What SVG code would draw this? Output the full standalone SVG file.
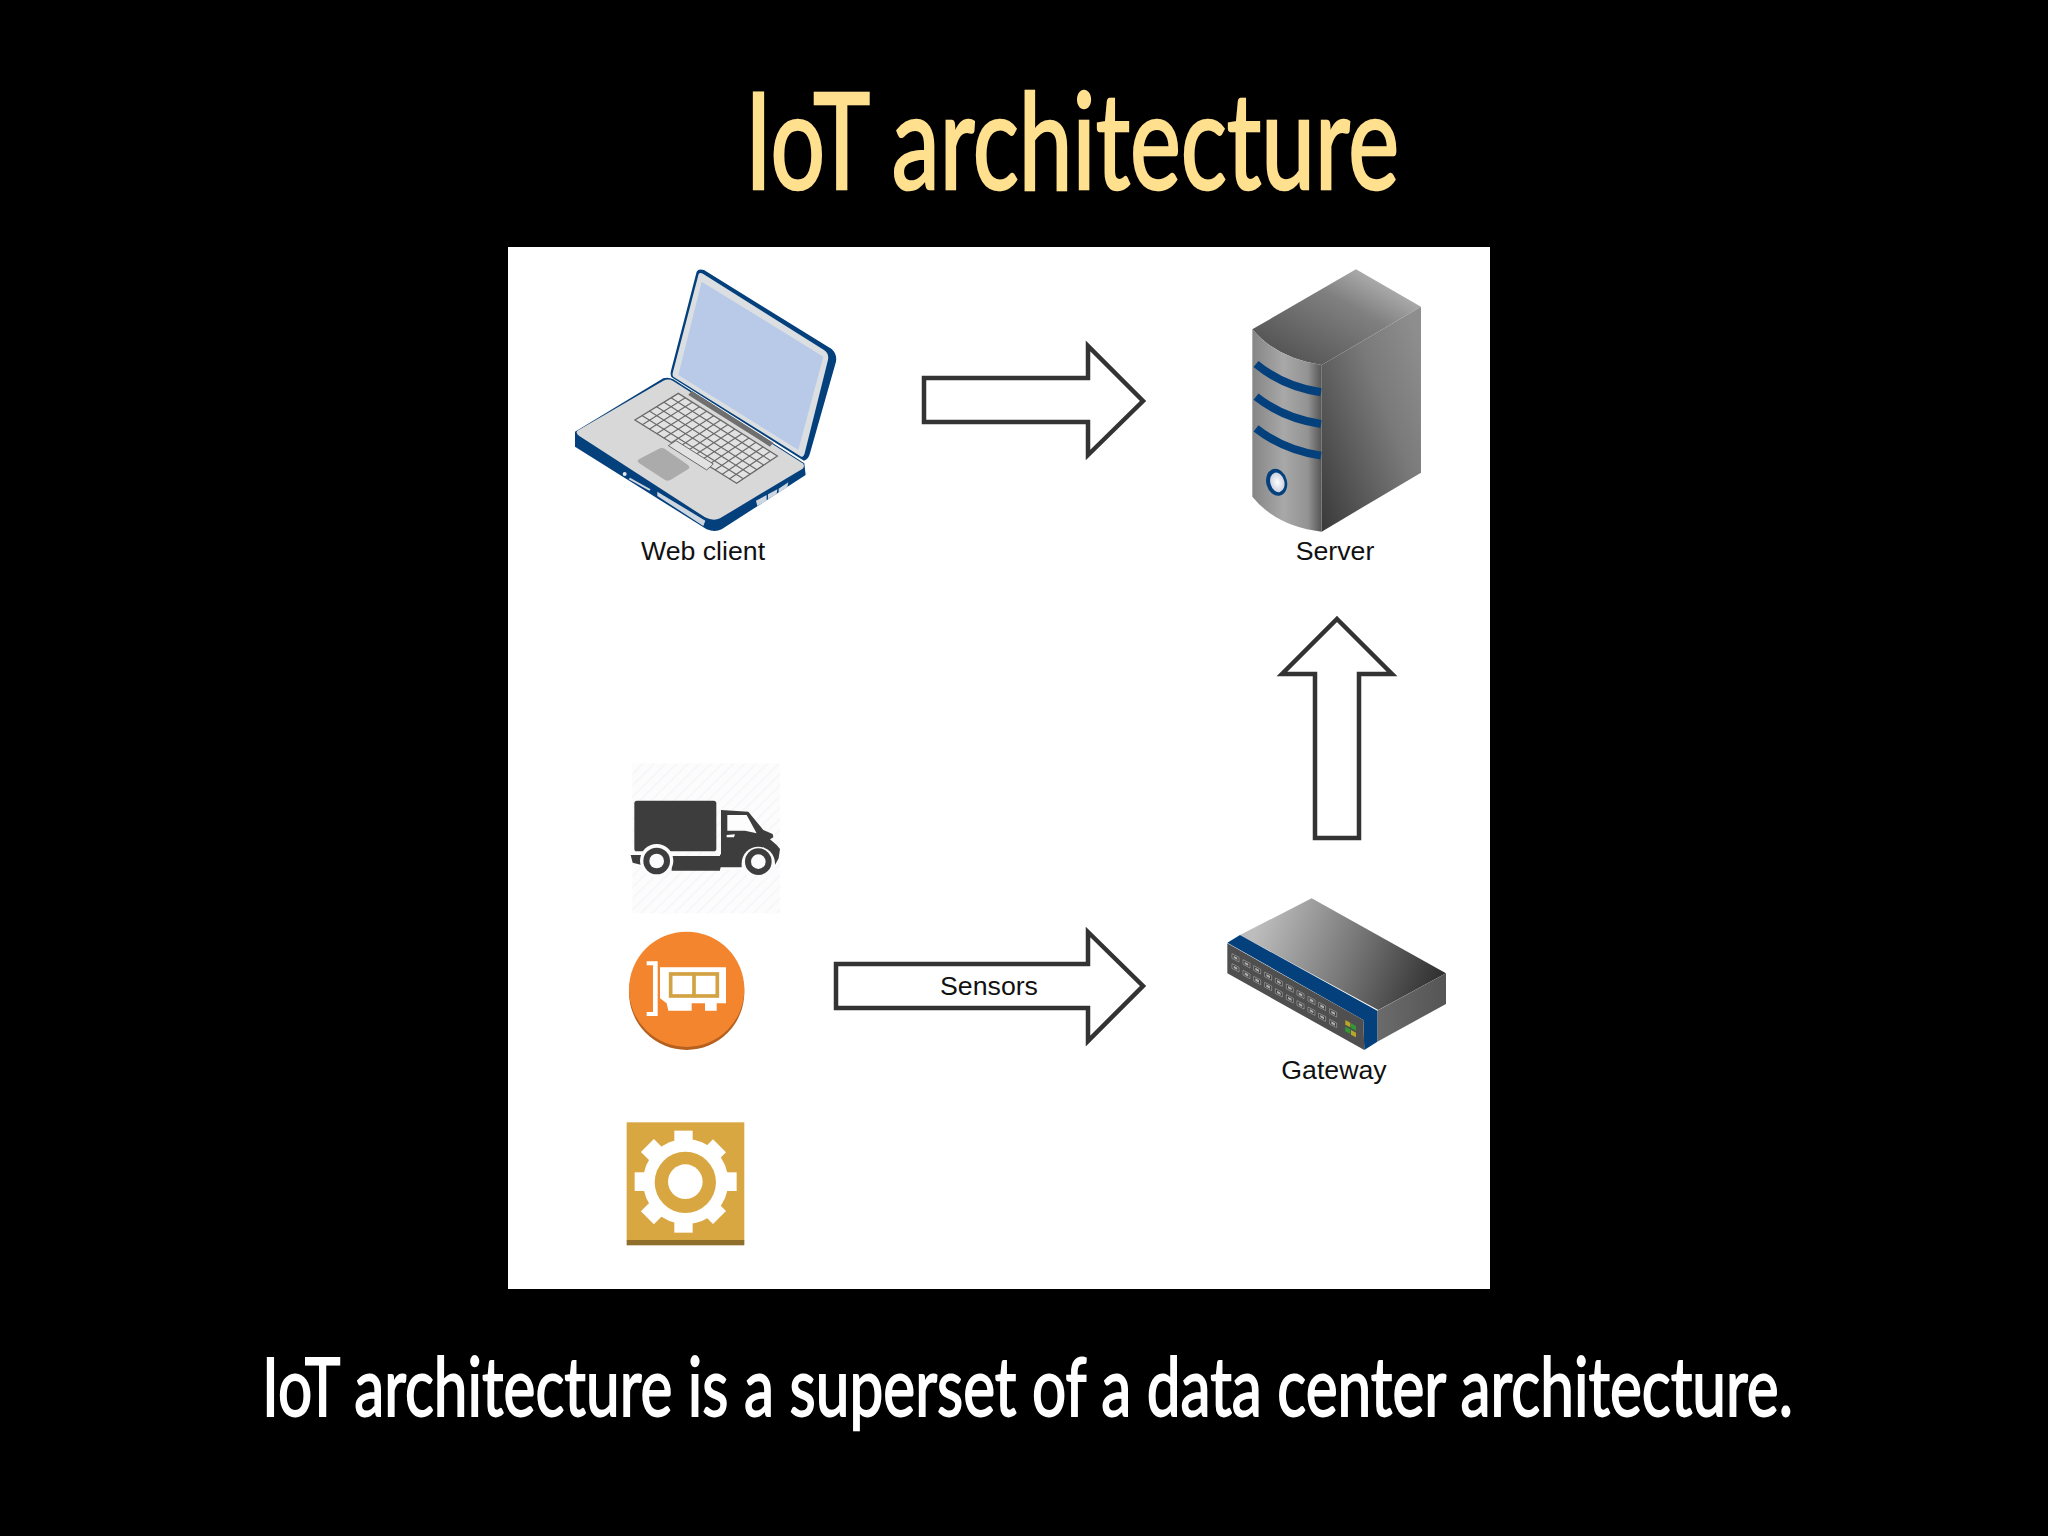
<svg xmlns="http://www.w3.org/2000/svg" width="2048" height="1536" viewBox="0 0 2048 1536">
<defs>
<style>
.lab{font-family:"Liberation Sans",Arial,sans-serif;font-size:26.7px;fill:#111;text-anchor:middle}
.head{font-family:Lato,"Open Sans",sans-serif;font-weight:400}
.arrow{fill:#fff;stroke:#333;stroke-width:4.5;stroke-linejoin:miter}
.navy{fill:#04407c}
</style>
<linearGradient id="srvTop" x1="0" y1="1" x2="1" y2="0"><stop offset="0" stop-color="#484848"/><stop offset=".6" stop-color="#808080"/><stop offset="1" stop-color="#cfcfcf"/></linearGradient>
<linearGradient id="srvSide" x1="0" y1="1" x2="1" y2="0.15"><stop offset="0" stop-color="#393939"/><stop offset=".65" stop-color="#7a7a7a"/><stop offset="1" stop-color="#8e8e8e"/></linearGradient>
<linearGradient id="srvFront" x1="0" y1="0" x2="1" y2="0"><stop offset="0" stop-color="#858585"/><stop offset=".45" stop-color="#a8a8a8"/><stop offset=".8" stop-color="#939393"/><stop offset="1" stop-color="#555"/></linearGradient>
<radialGradient id="led" cx=".5" cy=".5" r=".6"><stop offset="0" stop-color="#fff"/><stop offset="1" stop-color="#c4c8d8"/></radialGradient>
<linearGradient id="gwTop" gradientUnits="userSpaceOnUse" x1="150" y1="120" x2="690" y2="340"><stop offset="0" stop-color="#bdbdbd"/><stop offset=".5" stop-color="#777"/><stop offset="1" stop-color="#2c2c2c"/></linearGradient>
<linearGradient id="gwSide" x1="0" y1="0" x2="1" y2="0"><stop offset="0" stop-color="#6b6b6b"/><stop offset="1" stop-color="#555"/></linearGradient>
<pattern id="hatch" width="24" height="24" patternUnits="userSpaceOnUse" patternTransform="rotate(-45)"><rect width="24" height="24" fill="#fcfcfd"/><rect width="24" height="6" fill="#f7f7fa"/></pattern>
<g id="port"><path d="M-11-9 10 2V16L-11 5Z" fill="#3f3f3f" stroke="#a8a8a8" stroke-width="2"/><path d="M-6-3 5 3V10L-6 4Z" fill="#b0b0b0"/></g>
</defs>

<rect width="2048" height="1536" fill="#000"/>
<text id="title" class="head" x="745" y="189" font-size="134" fill="#fee08f" stroke="#fee08f" stroke-width="2.6" textLength="654" lengthAdjust="spacingAndGlyphs">IoT architecture</text>
<rect id="panel" x="508" y="247" width="982" height="1042" fill="#fff"/>

<g id="web-client">
<g transform="translate(540 250) scale(.3333)">
<path class="navy" d="M470 65Q475 55 492 60L875 297Q892 312 888 335L810 610Q805 630 792 632L395 382Q390 375 393 362Z"/>
<path d="M476 72Q480 66 490 72L852 300Q868 310 864 330L795 606Q792 622 784 620L400 380Q396 376 399 366Z" fill="#dcdfe2"/>
<path d="M485 95 850 320 775 600 415 375Z" fill="#b9c9e8"/>
<path class="navy" d="M105 545 370 385Q385 380 400 388L793 640 797 675 545 838Q525 848 500 838L105 590Z"/>
<path d="M112 542 370 392Q385 385 398 392L788 640Q796 648 788 656L540 805Q520 815 495 802L118 558Q106 550 112 542Z" fill="#d8d8d8"/>
<path d="M455 422 700 578 690 590 445 435Z" fill="#6f6f6f"/>
<path d="M415 430 712 618 590 700 285 510Z" fill="#e2e2e2" stroke="#6a6a6a" stroke-width="4"/>
<path d="M393 443 692 632M372 457 671 645M350 470 651 659M328 483 631 673M307 497 610 686M436 443 307 524M457 457 329 537M479 470 350 551M500 484 372 564M521 497 394 578M542 510 416 592M563 524 438 605M585 537 459 619M606 551 481 632M627 564 503 646M648 577 525 660M669 591 547 673M691 604 568 687" fill="none" stroke="#6a6a6a" stroke-width="3.5"/>
<path d="M408 572 520 642 500 660 385 587Z" fill="#e2e2e2" stroke="#6a6a6a" stroke-width="3"/>
<path d="M360 595Q368 592 375 597L444 645Q452 652 444 658L395 688Q385 695 375 690L298 640Q288 632 298 627Z" fill="#ababab"/>
<circle cx="254" cy="672" r="6" fill="#e8e8e8"/>
<path d="M270 683 332 718 328 722 266 688ZM352 725 496 812 490 828 352 738ZM648 752 680 735 680 752 652 768ZM684 733 712 718 710 733 684 748ZM716 716 745 697 742 712 716 728Z" fill="#ced6e0"/>
</g>
<text class="lab" x="703" y="560">Web client</text>
</g>

<g id="server">
<g transform="translate(1220 250) scale(.3333)">
<path d="M97 238 408 58 603 170 305 345Q170 325 97 238Z" fill="url(#srvTop)"/>
<path d="M305 345 603 170V668L305 845Z" fill="url(#srvSide)"/>
<path d="M97 238Q170 325 305 345V845Q170 830 97 740Z" fill="url(#srvFront)"/>
<path d="M108 342Q190 410 303 427M108 440Q190 505 303 522M108 535Q190 600 303 617" fill="none" stroke="#04407c" stroke-width="24"/>
<ellipse cx="170" cy="697" rx="31" ry="41" transform="rotate(-15 170 697)" fill="#04407c"/>
<ellipse cx="172" cy="697" rx="21" ry="30" transform="rotate(-15 172 697)" fill="url(#led)"/>
</g>
<text class="lab" x="1335" y="560">Server</text>
</g>

<g id="gateway">
<g transform="translate(1210 880) scale(.3333)">
<path d="M90 165 305 55 708 280 505 390Z" fill="url(#gwTop)"/>
<path d="M502 392 708 280V372L502 485Z" fill="url(#gwSide)"/>
<path class="navy" d="M52 188 90 165 502 392V485L463 510 460 420Z"/>
<path d="M52 190 460 420 463 510 52 280Z" fill="#4f4f4f"/>
<use href="#port" x="77" y="230"/><use href="#port" x="110" y="248"/><use href="#port" x="142" y="266"/><use href="#port" x="175" y="285"/><use href="#port" x="207" y="303"/><use href="#port" x="240" y="321"/><use href="#port" x="272" y="340"/><use href="#port" x="305" y="358"/><use href="#port" x="337" y="376"/><use href="#port" x="370" y="395"/>
<use href="#port" x="77" y="260"/><use href="#port" x="110" y="280"/><use href="#port" x="142" y="298"/><use href="#port" x="175" y="316"/><use href="#port" x="207" y="335"/><use href="#port" x="240" y="353"/><use href="#port" x="272" y="371"/><use href="#port" x="305" y="390"/><use href="#port" x="337" y="408"/><use href="#port" x="370" y="427"/>
<path d="M406 420 421 428V442L406 434Z" fill="#b9a52a"/><path d="M423 430 438 438V452L423 444Z" fill="#2f9a34"/><path d="M406 440 421 448V462L406 454Z" fill="#2f9a34"/><path d="M423 450 438 458V472L423 464Z" fill="#b9a52a"/>
</g>
<text class="lab" x="1334" y="1079">Gateway</text>
</g>

<g id="truck">
<g transform="translate(610 750) scale(.3333)">
<rect x="67" y="40" width="443" height="450" fill="url(#hatch)"/>
<rect x="73" y="152" width="246" height="152" rx="8" fill="#3d3d3d"/>
<path d="M333 180 415 185 460 240 488 252 490 262 480 268 500 285 510 297 506 325 495 345 455 360H330L330 330V315L333 312Z" fill="#3d3d3d"/>
<path d="M185 318H330V362H185ZM62 315H95V345L68 338Z" fill="#3d3d3d"/>
<path d="M352 195H410L440 250 405 242H352Z" fill="#fdfdfd"/>
<path d="M350 255 375 253 372 262 350 262ZM332 352H400V360H330Z" fill="#fff"/>
<circle cx="140" cy="332" r="50" fill="#fbfbfd"/><circle cx="140" cy="333" r="40" fill="#3d3d3d"/><circle cx="140" cy="333" r="22" fill="#fbfbfd"/>
<path d="M395 340A50 50 0 0 1 495 340V375H395Z" fill="#fbfbfd"/><circle cx="445" cy="335" r="40" fill="#3d3d3d"/><circle cx="445" cy="335" r="22" fill="#fbfbfd"/>
</g>
</g>

<g id="network-card">
<g transform="translate(610 750) scale(.3333)">
<circle cx="230" cy="727" r="173" fill="#b5601f"/>
<circle cx="230" cy="718" r="173" fill="#f3852f"/>
<path d="M110 634H143V798H110V786H129V646H110Z" fill="#fff"/>
<path d="M150 652H348V760H320V782H285V760H245V782H175L170 760 150 745Z" fill="#fff"/>
<rect x="182" y="672" width="140" height="66" fill="#fff" stroke="#d2a243" stroke-width="11"/>
<path d="M252 668V742" stroke="#d2a243" stroke-width="11"/>
</g>
</g>

<g id="gear">
<g transform="translate(610 1080) scale(.3333)">
<rect x="50" y="127" width="353" height="355" fill="#d9a741"/>
<rect x="50" y="480" width="353" height="16" fill="#8f6f2b"/>
<g fill="#fff">
<circle cx="227" cy="305" r="128"/>
<rect x="193" y="152" width="55" height="306"/>
<rect x="74" y="277" width="306" height="56"/>
<rect x="193" y="152" width="55" height="306" transform="rotate(45 220 305)"/>
<rect x="193" y="152" width="55" height="306" transform="rotate(-45 220 305)"/>
</g>
<circle cx="226" cy="307" r="92" fill="#d9a741"/>
<circle cx="226" cy="305" r="52" fill="#fff"/>
</g>
</g>

<g id="connectors">
<path class="arrow" d="M924 378H1088V346L1143 401 1088 455V422H924Z"/>
<path class="arrow" d="M1337 619 1392 674H1359V838H1315V674H1282Z"/>
<path class="arrow" d="M836 964H1088V932L1143 986 1088 1041V1008H836Z"/>
<text class="lab" x="989" y="995">Sensors</text>
</g>

<text id="caption" class="head" transform="translate(262 1416) scale(1 1.367)" x="0" y="0" font-size="60" fill="#fff" stroke="#fff" stroke-width="1.3" textLength="1531" lengthAdjust="spacingAndGlyphs">IoT architecture is a superset of a data center architecture.</text>
</svg>
